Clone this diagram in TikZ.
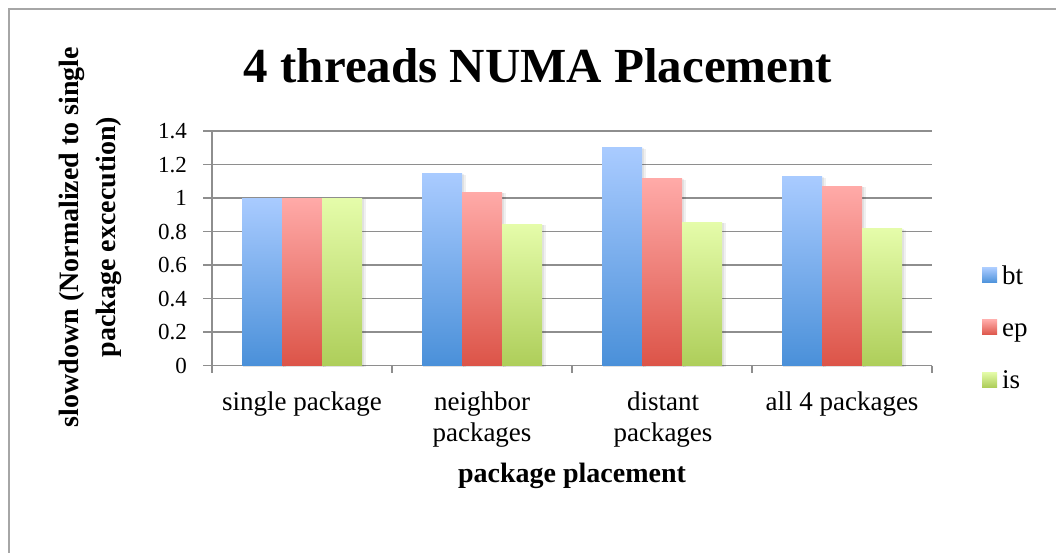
\documentclass[tikz,border=0pt]{standalone}
\usepackage{fontspec}
\setmainfont{Liberation Serif}
\definecolor{framegray}{HTML}{A6A6A6}
\definecolor{gridgray}{HTML}{8E8E8E}
\definecolor{btTop}{RGB}{169,203,255}
\definecolor{btBot}{RGB}{74,144,217}
\definecolor{epTop}{RGB}{255,170,168}
\definecolor{epBot}{RGB}{220,84,72}
\definecolor{isTop}{RGB}{229,252,170}
\definecolor{isBot}{RGB}{174,206,90}
\tikzset{
  gridline/.style={draw=gridgray, line width=1.5bp},
  ticklbl/.style={font=\fontsize{23bp}{25bp}\selectfont, anchor=east, inner sep=0pt},
  catlbl/.style={font=\fontsize{27bp}{30bp}\selectfont, anchor=base, inner sep=0pt},
  axistitle/.style={font=\bfseries\fontsize{28bp}{30bp}\selectfont, anchor=base, inner sep=0pt},
  legendlbl/.style={font=\fontsize{27bp}{30bp}\selectfont, anchor=base west, inner sep=0pt},
  barshadow/.style={fill=black, fill opacity=0.06, draw=none},
  btbar/.style={top color=btTop, bottom color=btBot, draw=none},
  epbar/.style={top color=epTop, bottom color=epBot, draw=none},
  isbar/.style={top color=isTop, bottom color=isBot, draw=none},
}
\begin{document}
\begin{tikzpicture}[x=1bp, y=-1bp]
\useasboundingbox (0,0) rectangle (1056,553);
\fill[white] (0,0) rectangle (1056,553);

% chart frame (open to the right and bottom)
\draw[draw=framegray, line width=1.5bp] (9,553) -- (9,9) -- (1056,9);

% title
\node[font=\bfseries\fontsize{49bp}{52bp}\selectfont, anchor=base, inner sep=0pt] (title) at (538,83) {4 threads NUMA Placement};

% horizontal grid lines, value ticks and labels
\foreach \v/\lbl in {0/0, 0.2/0.2, 0.4/0.4, 0.6/0.6, 0.8/0.8, 1.0/1, 1.2/1.2, 1.4/1.4} {
  \pgfmathsetmacro{\yy}{365.7-167.6*\v}
  \draw[gridline] (203,\yy) -- (932,\yy);
  \node[ticklbl] (tick-\lbl) at (187,\yy) {\lbl};
}

% value axis
\draw[gridline] (212,131) -- (212,366);

% category ticks
\foreach \i in {0,...,4} {
  \pgfmathsetmacro{\xx}{212+180*\i}
  \draw[gridline] (\xx,365.7) -- (\xx,373);
}

% one bar with its soft drop shadow: left x, top y, style
\newcommand{\gradbar}[3]{%
  \fill[barshadow] (#1+1,#2+1) rectangle (#1+44,367.5);
  \fill[barshadow] (#1+1,#2+0.5) rectangle (#1+42,366.7);
  \shade[#3] (#1,#2) rectangle (#1+40,365.7);
}

% bars: group index / bt / ep / is
\foreach \g/\bt/\ep/\is in {0/1.0/1.0/1.0, 1/1.144/1.036/0.845, 2/1.299/1.114/0.857, 3/1.126/1.072/0.816} {
  \pgfmathsetmacro{\xa}{212+180*\g+30}
  \pgfmathsetmacro{\xb}{\xa+40}
  \pgfmathsetmacro{\xc}{\xa+80}
  \pgfmathsetmacro{\ya}{365.7-167.6*\bt}
  \pgfmathsetmacro{\yb}{365.7-167.6*\ep}
  \pgfmathsetmacro{\yc}{365.7-167.6*\is}
  \gradbar{\xa}{\ya}{btbar}
  \gradbar{\xb}{\yb}{epbar}
  \gradbar{\xc}{\yc}{isbar}
}

% category labels
\node[catlbl] (cat1) at (302,410) {single package};
\node[catlbl] (cat2a) at (482,410) {neighbor};
\node[catlbl] (cat2b) at (482,441) {packages};
\node[catlbl] (cat3a) at (663,410) {distant};
\node[catlbl] (cat3b) at (663,441) {packages};
\node[catlbl] (cat4) at (842,410) {all 4 packages};

% axis titles
\node[axistitle] (xtitle) at (572,482) {package placement};
\node[axistitle, rotate=90] (ytitle1) at (78,237) {slowdown (Normalized to single};
\node[axistitle, rotate=90] (ytitle2) at (115,237) {package excecution)};

% legend
\shade[btbar] (982,268) rectangle (997,283);
\node[legendlbl] (leg-bt) at (1002,285) {bt};
\shade[epbar] (982,320) rectangle (997,335);
\node[legendlbl] (leg-ep) at (1002,337) {ep};
\shade[isbar] (982,372) rectangle (997,387);
\node[legendlbl] (leg-is) at (1002,388) {is};
\end{tikzpicture}
\end{document}
